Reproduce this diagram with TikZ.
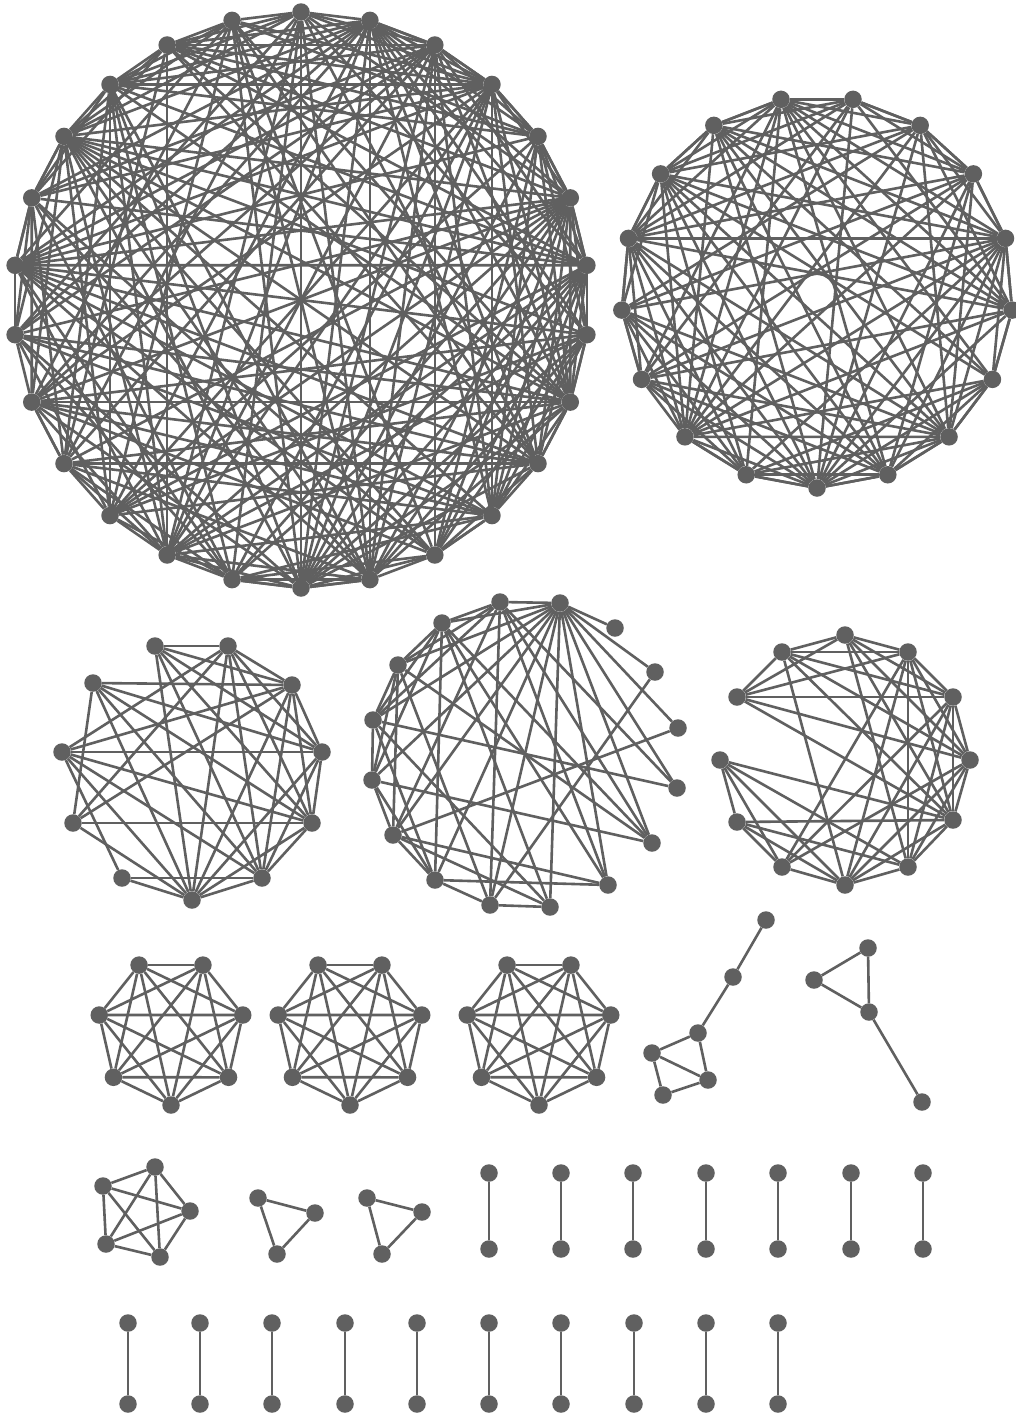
\documentclass[tikz,border=0pt]{standalone}
\usetikzlibrary{calc}
\definecolor{ink}{RGB}{96,96,96}
\pgfdeclarelayer{bg}
\pgfsetlayers{bg,main}
\tikzset{
  vtx/.style={circle,fill=ink,draw=none,inner sep=0pt,minimum size=17.5pt},
  lnk/.style={draw=ink,line width=2.6pt},
}
\begin{document}
\begin{tikzpicture}[x=1pt,y=-1pt]
\begin{pgfonlayer}{bg}
\fill[white] (0,0) rectangle (1016,1416);
\end{pgfonlayer}
\useasboundingbox (0,0) rectangle (1016,1416);

% ---------- graph 1 (26 nodes) ----------
\foreach \k in {1,...,26}{
  \node[vtx] (P\k) at ({301+288*sin((\k-1)*360/26)},{300-288*cos((\k-1)*360/26)}) {};
}
\begin{pgfonlayer}{bg}
\pgfmathsetseed{4242}
\foreach \i in {1,...,25}{
  \pgfmathtruncatemacro\ii{\i+1}
  \draw[lnk] (P\i) -- (P\ii);
  \foreach \j in {\ii,...,26}{
    \pgfmathtruncatemacro\thr{50+12*((\i<15)+(\j<15))}
    \pgfmathrandominteger{\rr}{0}{99}
    \ifnum\rr<\thr\relax \draw[lnk] (P\i) -- (P\j); \fi
  }
}
\draw[lnk] (P26) -- (P1);
\end{pgfonlayer}

% ---------- graph 2 (17 nodes) ----------
\foreach \k in {1,...,17}{
  \node[vtx] (Q\k) at ({817+196*sin(180+(\k-1)*360/17)},{292-196*cos(180+(\k-1)*360/17)}) {};
}
\begin{pgfonlayer}{bg}
\pgfmathsetseed{777}
\foreach \i in {1,...,16}{
  \pgfmathtruncatemacro\ii{\i+1}
  \draw[lnk] (Q\i) -- (Q\ii);
  \foreach \j in {\ii,...,17}{
    \pgfmathrandominteger{\rr}{0}{99}
    \ifnum\rr<80 \draw[lnk] (Q\i) -- (Q\j); \fi
  }
}
\draw[lnk] (Q17) -- (Q1);
\end{pgfonlayer}

% ---------- graph A (11 nodes) ----------
\foreach \n/\x/\y in {1/155/646,2/228/646,3/292/685,4/322/752,5/312/823,6/262/878,7/192/900,8/122/878,9/73/823,10/62/752,11/93/683}{
  \node[vtx] (A\n) at (\x,\y) {};
}
\begin{pgfonlayer}{bg}
\foreach \a/\b in {1/2,1/3,1/4,1/5,1/6,1/7,
  2/3,2/4,2/5,2/6,2/7,2/9,2/10,
  11/3,11/9,11/4,11/5,11/6,11/7,
  10/4,10/3,10/8,10/7,10/6,10/5,
  9/5,9/3,9/7,
  8/6,8/7,
  7/3,7/4,7/5,7/6,
  6/3,6/4,6/5,
  5/3,5/4,4/3}{
  \draw[lnk] (A\a) -- (A\b);
}
\end{pgfonlayer}

% ---------- graph B (16 nodes) ----------
\foreach \n/\x/\y in {1/500/602,2/560/603,3/615/628,4/655/672,5/678/728,6/677/788,7/652/843,8/608/885,9/550/907,10/490/905,11/435/880,12/393/835,13/372/780,14/373/720,15/398/665,16/442/623}{
  \node[vtx] (B\n) at (\x,\y) {};
}
\begin{pgfonlayer}{bg}
\foreach \a/\b in {1/2,1/16,1/15,1/14,1/7,1/8,1/6,1/10,1/12,
  2/3,2/16,2/15,2/14,2/13,2/12,2/11,2/10,2/9,2/8,2/7,2/5,2/6,2/4,
  4/10,5/12,6/14,
  7/16,7/15,7/13,
  8/11,8/16,8/12,
  9/10,9/14,9/16,9/12,
  10/11,10/15,
  11/16,11/12,11/13,11/14,
  12/13,12/15,
  13/14,13/15,13/16,
  14/15,14/16,15/16}{
  \draw[lnk] (B\a) -- (B\b);
}
\end{pgfonlayer}

% ---------- graph C (12 nodes) ----------
\foreach \n/\x/\y in {1/845/635,2/908/652,3/953/697,4/970/760,5/953/820,6/908/867,7/845/885,8/782/867,9/737/822,10/720/760,11/737/697,12/782/652}{
  \node[vtx] (C\n) at (\x,\y) {};
}
\begin{pgfonlayer}{bg}
\foreach \a/\b in {11/12,11/1,11/2,11/3,11/4,11/5,
  12/1,12/2,12/3,12/4,12/5,12/7,
  1/2,1/3,1/4,1/5,1/6,
  2/3,2/4,2/5,2/6,2/7,2/8,
  3/4,3/5,3/6,3/7,3/8,
  4/5,4/6,4/7,4/8,
  5/6,5/7,5/9,5/10,
  6/7,6/10,6/9,
  7/8,7/9,7/10,
  8/9,8/10,9/10}{
  \draw[lnk] (C\a) -- (C\b);
}
\end{pgfonlayer}

% ---------- three K7 ----------
\foreach \g/\cx in {a/171,b/350,c/539}{
  \foreach \k in {1,...,7}{
    \node[vtx] (K\g\k) at ({\cx+73.6*sin(180+(\k-1)*360/7)},{1031.4-73.6*cos(180+(\k-1)*360/7)}) {};
  }
  \begin{pgfonlayer}{bg}
  \foreach \i in {1,...,6}{
    \pgfmathtruncatemacro\ii{\i+1}
    \foreach \j in {\ii,...,7}{
      \draw[lnk] (K\g\i) -- (K\g\j);
    }
  }
  \end{pgfonlayer}
}

% ---------- path graph D ----------
\foreach \n/\x/\y in {1/766/920,2/733/977,3/698/1033,4/652/1053,5/708/1080,6/663/1095}{
  \node[vtx] (D\n) at (\x,\y) {};
}
\begin{pgfonlayer}{bg}
\foreach \a/\b in {1/2,2/3,3/4,3/5,4/5,4/6,6/5}{
  \draw[lnk] (D\a) -- (D\b);
}
\end{pgfonlayer}

% ---------- triangle with tail E ----------
\foreach \n/\x/\y in {1/868/948,2/814/980,3/869/1012,4/922/1102}{
  \node[vtx] (E\n) at (\x,\y) {};
}
\begin{pgfonlayer}{bg}
\foreach \a/\b in {1/2,1/3,2/3,3/4}{
  \draw[lnk] (E\a) -- (E\b);
}
\end{pgfonlayer}

% ---------- K5 ----------
\foreach \n/\x/\y in {1/155/1167,2/103/1186,3/190/1211,4/106/1244,5/160/1257}{
  \node[vtx] (F\n) at (\x,\y) {};
}
\begin{pgfonlayer}{bg}
\foreach \a/\b in {1/2,1/3,1/4,1/5,2/3,2/4,2/5,3/4,3/5,4/5}{
  \draw[lnk] (F\a) -- (F\b);
}
\end{pgfonlayer}

% ---------- triangles ----------
\foreach \n/\x/\y in {1/258/1198,2/315/1213,3/277/1254}{
  \node[vtx] (G\n) at (\x,\y) {};
}
\foreach \n/\x/\y in {1/367/1198,2/422/1212,3/382/1254}{
  \node[vtx] (T\n) at (\x,\y) {};
}
\begin{pgfonlayer}{bg}
\draw[lnk] (G1) -- (G2) -- (G3) -- (G1);
\draw[lnk] (T1) -- (T2) -- (T3) -- (T1);
\end{pgfonlayer}

% ---------- single edges, row 4 ----------
\foreach \n/\x in {1/489,2/561,3/633,4/706,5/778,6/851,7/923}{
  \node[vtx] (U\n) at (\x,1173) {};
  \node[vtx] (V\n) at (\x,1249) {};
  \begin{pgfonlayer}{bg}
  \draw[lnk] (U\n) -- (V\n);
  \end{pgfonlayer}
}

% ---------- single edges, row 5 ----------
\foreach \n/\x in {1/128,2/200,3/272,4/345,5/417,6/489,7/561,8/634,9/706,10/778}{
  \node[vtx] (W\n) at (\x,1323) {};
  \node[vtx] (X\n) at (\x,1404) {};
  \begin{pgfonlayer}{bg}
  \draw[lnk] (W\n) -- (X\n);
  \end{pgfonlayer}
}
\end{tikzpicture}
\end{document}
